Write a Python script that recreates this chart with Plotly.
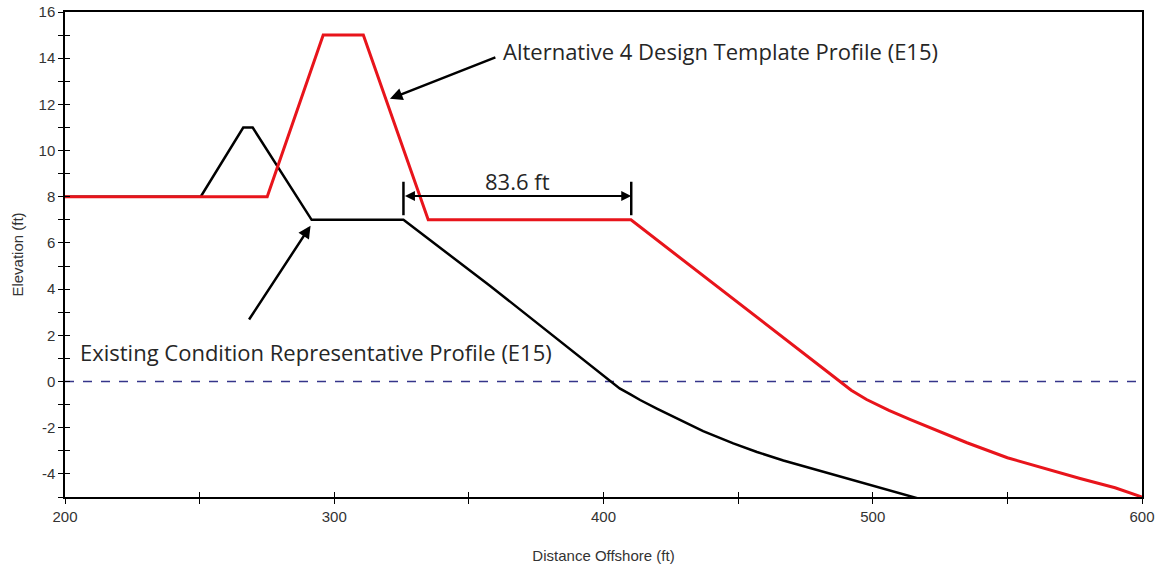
import plotly.graph_objects as go

# Existing condition representative profile (E15)
existing_x = [200, 250.4, 266.2, 269.7, 291.6, 325.7, 357.8, 398, 402.4, 406, 410, 413.6, 420, 427.2,
              437, 448.2, 457, 466.8, 480, 491.5, 503, 513.8, 518]
existing_y = [8, 8, 11, 11, 7, 7, 4.15, 0.42, 0, -0.3, -0.56, -0.8, -1.18, -1.6,
              -2.15, -2.68, -3.05, -3.42, -3.85, -4.22, -4.6, -4.97, -5.1]

# Alternative 4 design template profile (E15)
alt_x = [200, 275.1, 295.9, 310.8, 334.9, 410.2, 484, 487.8, 492, 497.7, 506, 514, 521.3,
         535, 550, 565, 577, 590, 600]
alt_y = [8, 8, 15, 15, 7, 7, 0.35, 0, -0.38, -0.78, -1.25, -1.65, -2.0,
         -2.65, -3.3, -3.8, -4.2, -4.6, -5.0]

# Reference (zero) line
ref_x = [200, 600]
ref_y = [0, 0]

# Axis ticks
x_tickvals = [200, 300, 400, 500, 600]
x_ticktext = ["200", "300", "400", "500", "600"]
y_tickvals = [-4, -2, 0, 2, 4, 6, 8, 10, 12, 14, 16]
y_ticktext = ["-4", "-2", "0", "2", "4", "6", "8", "10", "12", "14", "16"]

# Dimension marker (83.6 ft)
dim_x = [325.7, 410.3]
dim_y_low, dim_y_high, dim_y_arrow = 7.2, 8.65, 8.03
dim_label = "83.6 ft"

label_alt = "Alternative 4 Design Template Profile (E15)"
label_exist = "Existing Condition Representative Profile (E15)"

x_title = "Distance Offshore (ft)"
y_title = "Elevation (ft)"

text_font = dict(family="Open Sans, Noto Sans, sans-serif", size=22, color="#262626")
tick_font = dict(family="Liberation Sans, Arial, sans-serif", size=15, color="#333333")
title_font = dict(family="Liberation Sans Narrow, Liberation Sans, Arial, sans-serif",
                  size=15, color="#333333")

fig = go.Figure()

fig.add_trace(go.Scatter(x=ref_x, y=ref_y, mode="lines",
                         line=dict(color="#35358a", width=1.5, dash="dash"),
                         hoverinfo="skip", showlegend=False))
fig.add_trace(go.Scatter(x=existing_x, y=existing_y, mode="lines",
                         line=dict(color="#000000", width=2.5),
                         name="Existing", showlegend=False))
fig.add_trace(go.Scatter(x=alt_x, y=alt_y, mode="lines",
                         line=dict(color="#e8141b", width=3),
                         name="Alternative 4", showlegend=False))

# dimension bars
bx, by = [], []
for xv in dim_x:
    bx += [xv, xv, None]
    by += [dim_y_low, dim_y_high, None]
fig.add_trace(go.Scatter(x=bx, y=by, mode="lines",
                         line=dict(color="#000000", width=2.5),
                         hoverinfo="skip", showlegend=False))

annotations = [
    dict(x=dim_x[1], y=dim_y_arrow, ax=dim_x[0], ay=dim_y_arrow, xref="x", yref="y",
         axref="x", ayref="y", text="", showarrow=True, arrowhead=2, arrowside="end+start",
         arrowwidth=2, arrowsize=1, arrowcolor="#000000", standoff=0, startstandoff=0),
    dict(x=(dim_x[0] + dim_x[1]) / 2, y=dim_y_arrow, xref="x", yref="y", text=dim_label,
         showarrow=False, yanchor="bottom", yshift=-2, font=text_font),
    dict(x=320.7, y=12.24, ax=360.4, ay=14.06, xref="x", yref="y", axref="x", ayref="y",
         text="", showarrow=True, arrowhead=2, arrowwidth=2.5, arrowsize=1,
         arrowcolor="#000000", standoff=0),
    dict(x=362.0, y=14.3, xref="x", yref="y", text=label_alt, showarrow=False,
         xanchor="left", yanchor="middle", font=text_font),
    dict(x=291.2, y=6.75, ax=268.0, ay=2.62, xref="x", yref="y", axref="x", ayref="y",
         text="", showarrow=True, arrowhead=2, arrowwidth=2.5, arrowsize=1,
         arrowcolor="#000000", standoff=0),
    dict(x=205.0, y=1.3, xref="x", yref="y", text=label_exist, showarrow=False,
         xanchor="left", yanchor="middle", font=text_font),
]

fig.update_layout(
    width=1161, height=567,
    margin=dict(l=65, r=19, t=12, b=70),
    paper_bgcolor="white", plot_bgcolor="white",
    annotations=annotations,
    xaxis=dict(range=[200, 600], tickvals=x_tickvals, ticktext=x_ticktext, automargin=False,
               showgrid=False, zeroline=False,
               showline=True, linecolor="#000000", linewidth=1.5, mirror=True,
               ticks="outside", ticklen=5, tickcolor="#000000", tickfont=tick_font,
               minor=dict(dtick=50, tick0=200, ticks="outside", ticklen=5, tickcolor="#000000"),
               title=dict(text=x_title, font=title_font, standoff=27)),
    yaxis=dict(range=[-5, 16], tickvals=y_tickvals, ticktext=y_ticktext, automargin=False,
               showgrid=False, zeroline=False,
               showline=True, linecolor="#000000", linewidth=1.5, mirror=True,
               ticks="outside", ticklen=5, tickcolor="#000000", tickfont=tick_font,
               minor=dict(dtick=1, tick0=0, ticks="outside", ticklen=5, tickcolor="#000000"),
               title=dict(text=y_title, font=title_font, standoff=11)),
    xaxis2=dict(overlaying="x", matches="x", side="bottom", showgrid=False, zeroline=False,
                showline=False, showticklabels=False, ticks="inside", ticklen=5,
                tickcolor="#000000", dtick=50, tick0=200, range=[200, 600], automargin=False),
    yaxis2=dict(overlaying="y", matches="y", side="left", showgrid=False, zeroline=False,
                showline=False, showticklabels=False, ticks="inside", ticklen=5,
                tickcolor="#000000", dtick=1, tick0=0, range=[-5, 16], automargin=False),
)

fig.add_trace(go.Scatter(x=ref_x, y=ref_y, xaxis="x2", yaxis="y2", mode="lines",
                         line=dict(width=0), hoverinfo="skip", showlegend=False))

fig.write_html("out.html", config={"displayModeBar": False},
               post_script="document.body.style.margin='0';document.body.style.overflow='hidden';")
